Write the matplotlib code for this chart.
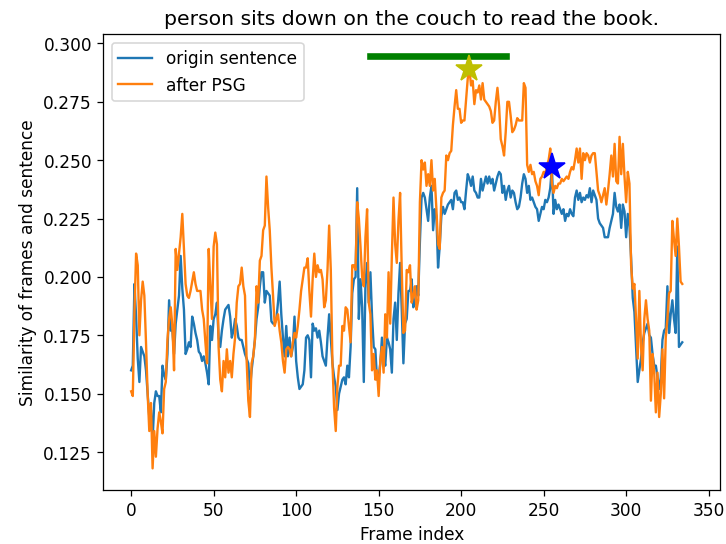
import matplotlib
matplotlib.use("Agg")
import matplotlib.pyplot as plt
import numpy as np

title = "person sits down on the couch to read the book."

# similarity of each frame to the original sentence
origin = [
    0.160, 0.162, 0.197, 0.183, 0.165, 0.155, 0.170, 0.168, 0.166, 0.160,
    0.150, 0.140, 0.143, 0.130, 0.146, 0.151, 0.149, 0.149, 0.142, 0.162,
    0.158, 0.156, 0.167, 0.190, 0.177, 0.177, 0.167, 0.180, 0.186, 0.192,
    0.209, 0.195, 0.186, 0.167, 0.169, 0.172, 0.170, 0.183, 0.180, 0.176,
    0.173, 0.168, 0.167, 0.164, 0.166, 0.163, 0.159, 0.154, 0.179, 0.173,
    0.182, 0.184, 0.189, 0.174, 0.170, 0.177, 0.182, 0.186, 0.187, 0.188,
    0.183, 0.174, 0.177, 0.182, 0.179, 0.174, 0.173, 0.173, 0.170, 0.167,
    0.165, 0.163, 0.152, 0.160, 0.166, 0.173, 0.182, 0.187, 0.196, 0.202,
    0.202, 0.189, 0.194, 0.193, 0.192, 0.181, 0.180, 0.180, 0.182, 0.189,
    0.198, 0.184, 0.174, 0.166, 0.179, 0.166, 0.174, 0.166, 0.170, 0.183,
    0.164, 0.157, 0.152, 0.153, 0.154, 0.160, 0.174, 0.175, 0.173, 0.157,
    0.180, 0.177, 0.178, 0.174, 0.177, 0.172, 0.166, 0.164, 0.162, 0.174,
    0.184, 0.174, 0.163, 0.157, 0.153, 0.143, 0.150, 0.153, 0.156, 0.157,
    0.154, 0.162, 0.157, 0.170, 0.193, 0.199, 0.200, 0.238, 0.182, 0.199,
    0.187, 0.155, 0.197, 0.206, 0.189, 0.202, 0.183, 0.170, 0.169, 0.156,
    0.157, 0.163, 0.174, 0.166, 0.162, 0.174, 0.172, 0.169, 0.159, 0.182,
    0.189, 0.173, 0.193, 0.206, 0.186, 0.163, 0.180, 0.182, 0.194, 0.194,
    0.199, 0.187, 0.189, 0.196, 0.192, 0.215, 0.234, 0.236, 0.234, 0.229,
    0.224, 0.234, 0.239, 0.220, 0.229, 0.226, 0.204, 0.213, 0.226, 0.230,
    0.227, 0.229, 0.231, 0.232, 0.233, 0.229, 0.236, 0.237, 0.233, 0.234,
    0.232, 0.232, 0.229, 0.237, 0.244, 0.242, 0.239, 0.243, 0.237, 0.236,
    0.234, 0.234, 0.242, 0.237, 0.240, 0.243, 0.240, 0.243, 0.240, 0.242,
    0.237, 0.240, 0.243, 0.245, 0.244, 0.236, 0.239, 0.233, 0.237, 0.239,
    0.234, 0.237, 0.236, 0.232, 0.229, 0.230, 0.234, 0.240, 0.244, 0.242,
    0.236, 0.239, 0.233, 0.234, 0.232, 0.230, 0.229, 0.224, 0.227, 0.230,
    0.229, 0.233, 0.232, 0.234, 0.238, 0.247, 0.227, 0.233, 0.229, 0.231,
    0.229, 0.227, 0.229, 0.224, 0.227, 0.226, 0.229, 0.227, 0.226, 0.234,
    0.237, 0.233, 0.236, 0.232, 0.234, 0.233, 0.235, 0.234, 0.238, 0.232,
    0.237, 0.235, 0.233, 0.225, 0.223, 0.222, 0.221, 0.217, 0.217, 0.217,
    0.221, 0.224, 0.227, 0.236, 0.230, 0.228, 0.231, 0.221, 0.231, 0.228,
    0.217, 0.227, 0.222, 0.208, 0.191, 0.185, 0.170, 0.155, 0.160, 0.165,
    0.172, 0.176, 0.178, 0.180, 0.175, 0.174, 0.167, 0.162, 0.162, 0.157,
    0.152, 0.157, 0.173, 0.177, 0.178, 0.196, 0.176, 0.184, 0.190, 0.182,
    0.176, 0.213, 0.170, 0.171, 0.172,
]

# similarity after PSG
after_psg = [
    0.151, 0.149, 0.185, 0.210, 0.205, 0.175, 0.190, 0.198, 0.192, 0.172,
    0.150, 0.134, 0.146, 0.118, 0.134, 0.123, 0.135, 0.142, 0.138, 0.133,
    0.152, 0.155, 0.173, 0.182, 0.187, 0.179, 0.160, 0.212, 0.203, 0.210,
    0.217, 0.227, 0.212, 0.197, 0.192, 0.191, 0.194, 0.198, 0.202, 0.197,
    0.194, 0.194, 0.194, 0.186, 0.182, 0.172, 0.163, 0.212, 0.196, 0.182,
    0.213, 0.219, 0.214, 0.170, 0.156, 0.151, 0.164, 0.157, 0.169, 0.159,
    0.164, 0.157, 0.167, 0.174, 0.189, 0.196, 0.197, 0.204, 0.196, 0.192,
    0.164, 0.147, 0.140, 0.163, 0.166, 0.173, 0.196, 0.189, 0.207, 0.209,
    0.220, 0.222, 0.243, 0.230, 0.220, 0.204, 0.192, 0.179, 0.182, 0.184,
    0.177, 0.172, 0.164, 0.159, 0.169, 0.170, 0.169, 0.166, 0.172, 0.176,
    0.174, 0.179, 0.186, 0.194, 0.199, 0.204, 0.204, 0.208, 0.194, 0.183,
    0.199, 0.210, 0.200, 0.205, 0.202, 0.203, 0.199, 0.187, 0.190, 0.203,
    0.222, 0.203, 0.163, 0.144, 0.134, 0.153, 0.162, 0.162, 0.179, 0.177,
    0.187, 0.186, 0.179, 0.172, 0.205, 0.205, 0.203, 0.232, 0.225, 0.213,
    0.200, 0.196, 0.217, 0.229, 0.189, 0.184, 0.160, 0.167, 0.156, 0.160,
    0.149, 0.164, 0.170, 0.159, 0.184, 0.174, 0.202, 0.180, 0.209, 0.234,
    0.214, 0.206, 0.224, 0.236, 0.203, 0.176, 0.177, 0.203, 0.202, 0.205,
    0.189, 0.192, 0.196, 0.186, 0.190, 0.232, 0.250, 0.246, 0.249, 0.239,
    0.244, 0.239, 0.250, 0.237, 0.242, 0.229, 0.214, 0.212, 0.234, 0.236,
    0.237, 0.252, 0.250, 0.253, 0.254, 0.265, 0.273, 0.280, 0.272, 0.272,
    0.266, 0.267, 0.267, 0.276, 0.285, 0.289, 0.282, 0.284, 0.274, 0.280,
    0.279, 0.282, 0.276, 0.283, 0.276, 0.275, 0.274, 0.273, 0.271, 0.266,
    0.267, 0.275, 0.281, 0.273, 0.259, 0.256, 0.252, 0.262, 0.275, 0.275,
    0.269, 0.262, 0.263, 0.265, 0.268, 0.267, 0.267, 0.267, 0.283, 0.281,
    0.248, 0.245, 0.248, 0.244, 0.245, 0.241, 0.239, 0.235, 0.242, 0.243,
    0.245, 0.244, 0.248, 0.250, 0.255, 0.240, 0.236, 0.239, 0.238, 0.240,
    0.240, 0.242, 0.241, 0.242, 0.243, 0.242, 0.245, 0.247, 0.246, 0.250,
    0.255, 0.249, 0.255, 0.242, 0.253, 0.250, 0.253, 0.252, 0.249, 0.252,
    0.253, 0.253, 0.245, 0.237, 0.235, 0.232, 0.235, 0.238, 0.231, 0.237,
    0.244, 0.252, 0.243, 0.257, 0.241, 0.240, 0.260, 0.244, 0.257, 0.243,
    0.232, 0.245, 0.240, 0.205, 0.195, 0.197, 0.182, 0.165, 0.194, 0.170,
    0.160, 0.182, 0.190, 0.182, 0.177, 0.147, 0.167, 0.159, 0.142, 0.159,
    0.140, 0.150, 0.169, 0.148, 0.174, 0.182, 0.193, 0.194, 0.224, 0.216,
    0.209, 0.225, 0.213, 0.198, 0.197,
]

# ground-truth segment of the sentence
gt_span = [145, 227]
gt_level = 0.2945

origin = np.array(origin)
after_psg = np.array(after_psg)
frames = np.arange(len(origin))

plt.rcParams['font.size'] = 10.8

fig = plt.figure(figsize=(6.4, 4.8), dpi=113.44)
plt.plot(frames, origin, label="origin sentence")
plt.plot(frames, after_psg, label="after PSG")
plt.plot(gt_span, [gt_level, gt_level], color="g", linewidth=4.2)

# best frame for each curve
i = np.argmax(after_psg)
plt.plot(frames[i], after_psg[i], "y*", markersize=18)
j = np.argmax(origin)
plt.plot(frames[j], origin[j], "b*", markersize=18)

plt.title(title)
plt.xlabel("Frame index")
plt.ylabel("Similarity of frames and sentence")
plt.legend(loc="upper left")
plt.xlim(-17, 357)
plt.ylim(0.1087, 0.3039)
plt.subplots_adjust(left=0.142, right=0.992, top=0.936, bottom=0.099)
plt.savefig("out.png")
